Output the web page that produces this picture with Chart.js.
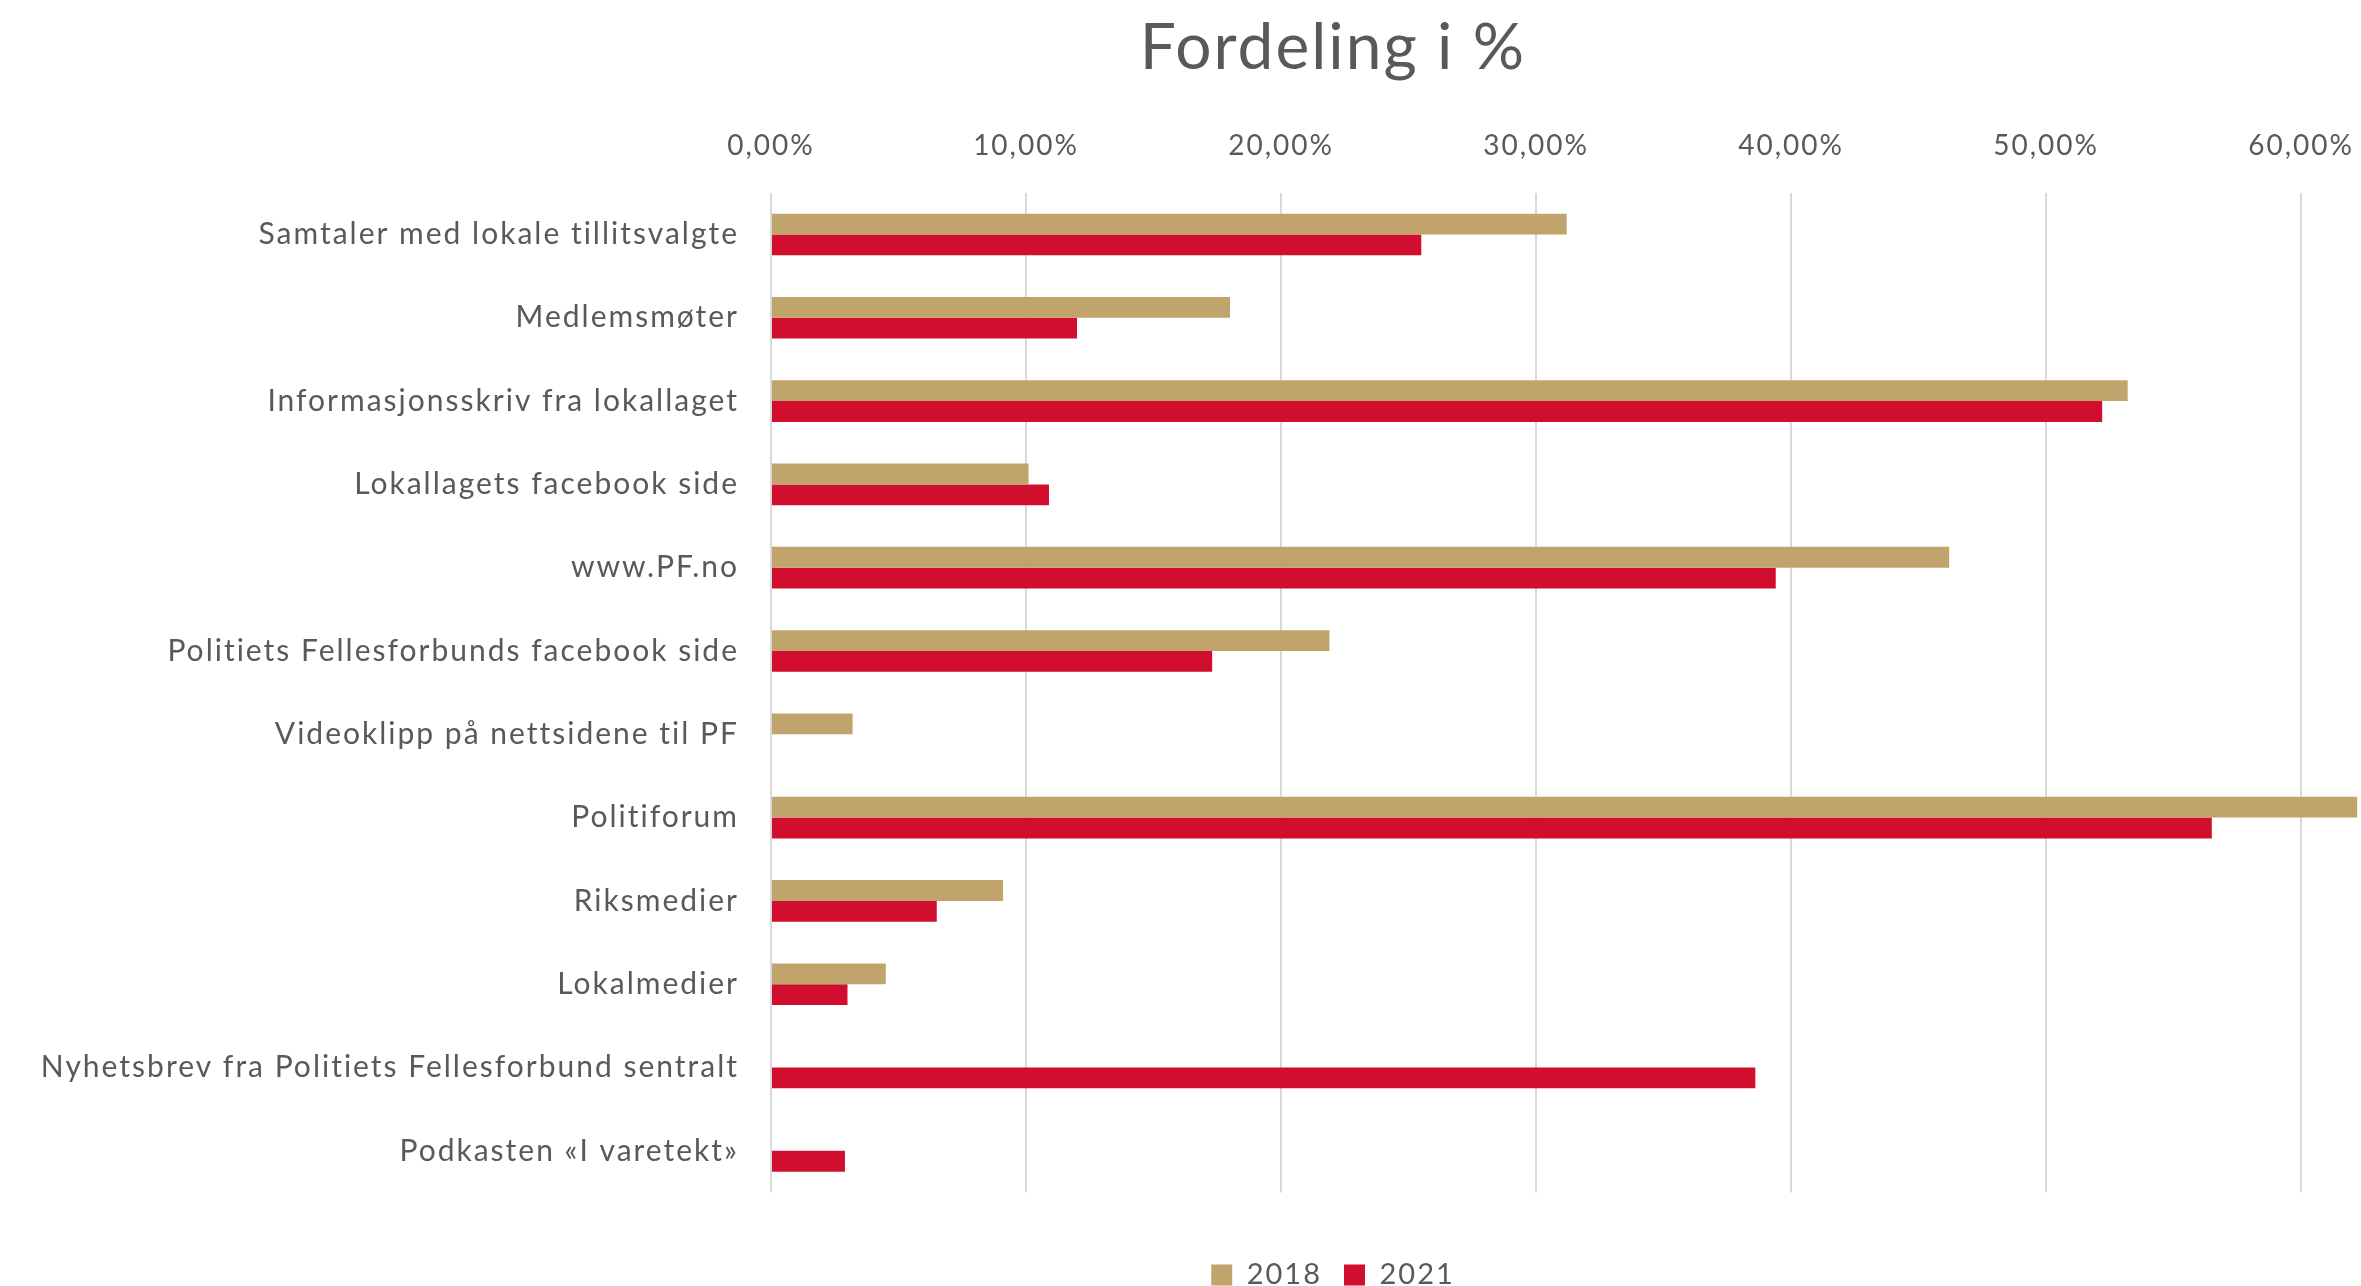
<!DOCTYPE html>
<html>
<head>
<meta charset="utf-8">
<script src="https://cdn.jsdelivr.net/npm/chart.js@4.4.0/dist/chart.umd.min.js"></script>
<style>
  body { margin: 0; background: #fff; }
  #wrap { width: 2361px; height: 1286px; }
</style>
</head>
<body>
<div id="wrap"><canvas id="chart" width="2361" height="1286"></canvas></div>
<script>
// categories and values (percent)
const categories = [
  'Samtaler med lokale tillitsvalgte',
  'Medlemsmøter',
  'Informasjonsskriv fra lokallaget',
  'Lokallagets facebook side',
  'www.PF.no',
  'Politiets Fellesforbunds facebook side',
  'Videoklipp på nettsidene til PF',
  'Politiforum',
  'Riksmedier',
  'Lokalmedier',
  'Nyhetsbrev fra Politiets Fellesforbund sentralt',
  'Podkasten «I varetekt»'
];
const values2018 = [31.2, 18.0, 53.2, 10.1, 46.2, 21.9, 3.2, 62.2, 9.1, 4.5, null, null];
const values2021 = [25.5, 12.0, 52.2, 10.9, 39.4, 17.3, null, 56.5, 6.5, 3.0, 38.6, 2.9];
const seriesLabels = ['2018', '2021'];
const tickValues = [0, 10, 20, 30, 40, 50, 60];

const textColor = '#595959';
const fontFamily = 'Lato, "Open Sans", sans-serif';

// the original text is a bit spaced out
const spacing = {
  id: 'spacing',
  beforeUpdate: chart => { chart.ctx.letterSpacing = '2px'; },
  beforeDraw: chart => { chart.ctx.letterSpacing = '2px'; }
};

new Chart(document.getElementById('chart'), {
  type: 'bar',
  data: {
    labels: categories,
    datasets: [
      { label: seriesLabels[0], data: values2018, backgroundColor: '#C1A36C' },
      { label: seriesLabels[1], data: values2021, backgroundColor: '#D10E2E' }
    ]
  },
  plugins: [spacing],
  options: {
    indexAxis: 'y',
    responsive: false,
    devicePixelRatio: 1,
    animation: false,
    categoryPercentage: 0.5,
    barPercentage: 1.0,
    layout: { padding: { left: 305, right: 0, top: 0, bottom: -13.5 } },
    plugins: {
      title: {
        display: true,
        text: 'Fordeling i %',
        color: textColor,
        font: { family: fontFamily, size: 64, weight: 'normal' },
        padding: { top: 10, bottom: 0 }
      },
      legend: {
        position: 'bottom',
        title: { display: true, text: ' ', font: { size: 10, lineHeight: 1 }, padding: { top: 16, bottom: 20 } },
        labels: {
          boxWidth: 21,
          boxHeight: 21,
          padding: 22,
          color: textColor,
          font: { family: fontFamily, size: 29 }
        }
      },
      tooltip: { enabled: false }
    },
    scales: {
      x: {
        position: 'top',
        min: 0,
        max: 62.35,
        afterBuildTicks: scale => {
          scale.ticks = tickValues.map(v => ({ value: v }));
        },
        afterFit: scale => {
          scale.height = 106;
          scale.paddingLeft = 0;
          scale.paddingRight = 0;
        },
        ticks: {
          padding: 30,
          color: textColor,
          font: { family: fontFamily, size: 28 },
          callback: v => v.toFixed(2).replace('.', ',') + '%'
        },
        grid: { color: '#D9D9D9', lineWidth: 2, drawTicks: false },
        border: { display: false }
      },
      y: {
        afterFit: scale => {
          scale.width = 466;
          scale.paddingTop = 0;
          scale.paddingBottom = 0;
          // long labels run past the scale box into the left padding, don't clip them
          scale._computeLabelArea = () => undefined;
        },
        ticks: {
          padding: 32,
          color: textColor,
          font: { family: fontFamily, size: 30 }
        },
        grid: { display: false, drawTicks: false },
        border: { display: false }
      }
    }
  }
});
</script>
</body>
</html>
